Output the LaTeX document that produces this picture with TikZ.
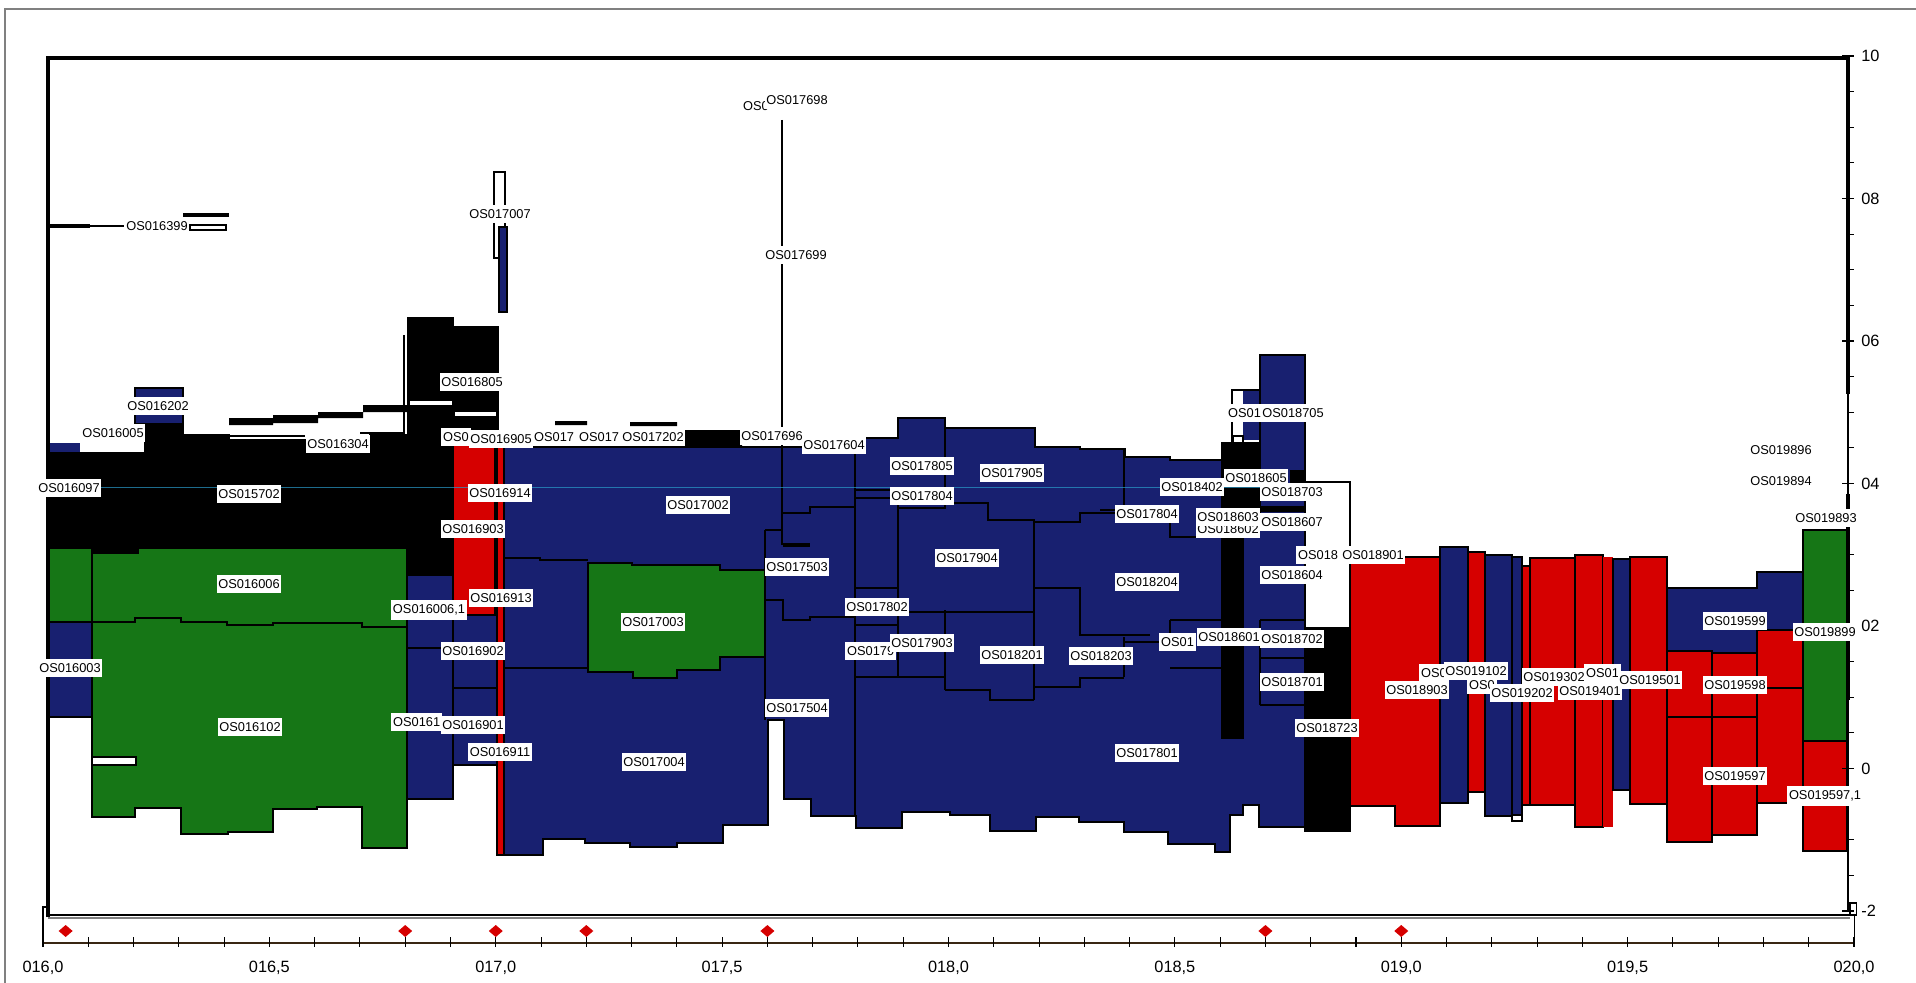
\documentclass[tikz,border=0pt]{standalone}
\usepackage{fontspec}
\setmainfont{Liberation Sans}
\usetikzlibrary{positioning}
\definecolor{navyblue}{RGB}{24,32,112}
\definecolor{oxred}{RGB}{214,0,0}
\definecolor{moss}{RGB}{22,118,22}

\begin{document}
\begin{tikzpicture}[x=0.02cm, y=-0.02cm,
    lbl/.style={fill=white, inner xsep=1pt, inner ysep=2.4pt,
                font=\fontsize{7.3}{8}\selectfont},
    cut/.style={lbl, anchor=west},
    bluebox/.style={fill=navyblue, draw=black, line width=1pt},
    redbox/.style={fill=oxred, draw=black, line width=1pt},
    greenbox/.style={fill=moss, draw=black, line width=1pt},
    blackbox/.style={fill=black, draw=black, line width=1pt},
    seam/.style={draw=black, line width=1pt},
    ticklbl/.style={font=\fontsize{9.3}{10}\selectfont, inner sep=0pt}
]
    \useasboundingbox (0,0) rectangle (1916,983);
    \draw[gray, line width=0.6pt] (5,983) -- (5,9) -- (1916,9);

    % left column
    \draw[line width=2.5pt] (48,226) -- (90,226);
    \node[lbl] (l016399) at (157,226) {OS016399};
    \draw[line width=0.8pt] (90,226) -- (l016399.west);
    \fill (183,213) rectangle (229,217);
    \draw[line width=0.8pt] (190,225) rectangle (226,230);
    \draw[bluebox] (135,388) rectangle (183,424);

    \draw[greenbox] (48,548) -- (92,548) -- (92,553) -- (138,553) -- (138,548) -- (407,548)
        -- (407,848) -- (362,848) -- (362,807) -- (317,807) -- (317,809) -- (273,809)
        -- (273,832) -- (228,832) -- (228,834) -- (181,834) -- (181,808) -- (135,808)
        -- (135,817) -- (92,817) -- (92,622) -- (48,622) -- cycle;
    \draw[seam] (92,548) -- (92,622)
        (92,622) -- (135,622) -- (135,618) -- (181,618) -- (181,622) -- (227,622) -- (227,625)
        -- (273,625) -- (273,623) -- (362,623) -- (362,627) -- (407,627);
    \draw[bluebox] (48,622) rectangle (92,717);
    \draw[line width=0.8pt, fill=white] (92,757) rectangle (136,765);

    \fill[navyblue] (48,443) rectangle (80,453);
    \draw[blackbox] (48,453) -- (145,453) -- (145,425) -- (183,425) -- (183,435) -- (229,435)
        -- (229,440) -- (370,440) -- (370,435) -- (408,435) -- (408,318) -- (453,318)
        -- (453,327) -- (498,327) -- (498,445) -- (453,445) -- (453,575) -- (407,575)
        -- (407,548) -- (138,548) -- (138,553) -- (92,553) -- (92,548) -- (48,548) -- cycle;
    \fill (229,418) rectangle (273,425) (273,415) rectangle (318,423)
          (318,412) rectangle (363,418) (363,405) rectangle (408,412);
    \draw[line width=0.6pt] (229,436) -- (305,436) (360,433) -- (405,433) (404,335) -- (404,440);
    \draw[white, line width=2pt] (410,403) -- (452,403) (455,414) -- (496,414);

    \draw[redbox] (453,445) rectangle (495,615);
    \draw[bluebox] (407,575) rectangle (453,799);
    \draw[bluebox] (453,615) rectangle (497,765);
    \draw[seam] (407,648) -- (453,648) (453,688) -- (497,688);

    % blue body
    \draw[bluebox] (504,447) -- (855,447) -- (855,438) -- (898,438) -- (898,418) -- (945,418)
        -- (945,428) -- (1035,428) -- (1035,447) -- (1080,447) -- (1080,449) -- (1125,449)
        -- (1125,457) -- (1170,457) -- (1170,460) -- (1222,460) -- (1222,443) -- (1260,443)
        -- (1260,355) -- (1305,355) -- (1305,827) -- (1259,827) -- (1259,805) -- (1243,805)
        -- (1243,815) -- (1230,815) -- (1230,852) -- (1215,852) -- (1215,844) -- (1168,844)
        -- (1168,832) -- (1124,832) -- (1124,822) -- (1079,822) -- (1079,817) -- (1036,817)
        -- (1036,831) -- (990,831) -- (990,815) -- (950,815) -- (950,812) -- (902,812)
        -- (902,828) -- (856,828) -- (856,816) -- (811,816) -- (811,799) -- (784,799)
        -- (784,720) -- (768,720) -- (768,825) -- (723,825) -- (723,843) -- (677,843)
        -- (677,847) -- (630,847) -- (630,843) -- (585,843) -- (585,839) -- (543,839)
        -- (543,855) -- (504,855) -- cycle;
    \draw[redbox, line width=0.8pt] (497,447) rectangle (504,855);
    \draw[greenbox] (588,563) -- (632,563) -- (632,565) -- (720,565) -- (720,570) -- (765,570)
        -- (765,657) -- (720,657) -- (720,670) -- (677,670) -- (677,678) -- (633,678)
        -- (633,672) -- (588,672) -- cycle;
    \draw[seam] (504,558) -- (540,558) -- (540,560) -- (588,560)
        (504,668) -- (588,668)
        (765,530) -- (765,720) (765,530) -- (783,530)
        (782,447) -- (782,545)
        (783,513) -- (810,513) -- (810,507) -- (855,507)
        (765,600) -- (783,600) -- (783,620) -- (810,620) -- (810,617) -- (855,617)
        (855,447) -- (855,816)
        (855,490) -- (898,490) (855,498) -- (890,498)
        (898,497) -- (898,677)
        (855,588) -- (898,588) (855,625) -- (898,625)
        (855,677) -- (945,677)
        (945,418) -- (945,507) (945,610) -- (945,690)
        (898,508) -- (945,508) -- (945,503) -- (988,503) -- (988,520) -- (1034,520)
            -- (1034,522) -- (1080,522) -- (1080,513) -- (1124,513)
        (1034,522) -- (1034,700)
        (898,612) -- (1034,612)
        (945,690) -- (990,690) -- (990,700) -- (1034,700)
        (1034,588) -- (1080,588) -- (1080,635) -- (1150,635)
        (1034,687) -- (1080,687) -- (1080,678) -- (1124,678)
        (1124,449) -- (1124,513) (1124,637) -- (1124,677)
        (1100,510) -- (1124,510) (1170,515) -- (1170,537) -- (1197,537)
        (1170,620) -- (1222,620) (1170,620) -- (1170,642) -- (1123,642)
        (1170,668) -- (1222,668)
        (1260,620) -- (1305,620) (1260,658) -- (1305,658) (1260,705) -- (1305,705)
        (1260,620) -- (1260,705);
    \draw[line width=2.2pt] (783,545) -- (810,545);
    \fill (685,430) rectangle (742,447) (555,421) rectangle (587,425) (630,422) rectangle (677,426);
    \draw[line width=1pt] (782,120) -- (782,447);
    \draw[line width=1pt] (494,258) -- (494,172) -- (505,172) -- (505,258) -- cycle;
    \draw[bluebox, line width=0.6pt] (499,227) rectangle (507,312);

    % columns near 018,7
    \draw[blackbox] (1222,443) -- (1260,443) -- (1260,520) -- (1243,520) -- (1243,738)
        -- (1222,738) -- cycle;
    \draw[line width=0.8pt] (1232,390) rectangle (1260,443);
    \fill[navyblue] (1243,391) rectangle (1259,440);
    \draw[line width=0.8pt, fill=white] (1233,436) rectangle (1243,443);
    \fill (1290,470) rectangle (1305,485) (1260,506) rectangle (1305,512);
    \draw[line width=1pt] (1305,482) -- (1350,482) -- (1350,628);
    \draw[blackbox] (1305,628) rectangle (1350,831);

    % red columns
    \draw[redbox] (1350,557) -- (1440,557) -- (1440,826) -- (1395,826) -- (1395,806)
        -- (1350,806) -- cycle;
    \draw[bluebox] (1440,547) rectangle (1468,803);
    \draw[redbox] (1468,552) rectangle (1485,792);
    \draw[bluebox] (1485,555) rectangle (1512,816);
    \draw[bluebox] (1512,557) rectangle (1522,815);
    \draw[line width=0.6pt, fill=white] (1512,815) rectangle (1522,821);
    \draw[redbox] (1522,566) rectangle (1530,805);
    \draw[redbox] (1530,558) rectangle (1575,805);
    \draw[redbox] (1575,555) rectangle (1603,827);
    \fill[oxred] (1603,557) rectangle (1613,827);
    \draw[bluebox] (1613,559) rectangle (1630,790);
    \draw[redbox] (1630,557) rectangle (1667,804);
    \draw[bluebox] (1667,588) -- (1757,588) -- (1757,572) -- (1803,572) -- (1803,630)
        -- (1757,630) -- (1757,653) -- (1712,653) -- (1712,651) -- (1667,651) -- cycle;
    \draw[redbox] (1667,651) rectangle (1712,842);
    \draw[redbox] (1712,653) rectangle (1757,835);
    \draw[redbox] (1757,630) rectangle (1803,803);
    \draw[seam] (1757,688) -- (1803,688) (1667,717) -- (1757,717);
    \draw[greenbox] (1803,530) rectangle (1847,741);
    \draw[redbox] (1803,741) rectangle (1847,851);

    \draw[cyan!60!teal, line width=0.4pt, opacity=0.7] (48,487) -- (1305,487);

    % axes
    \draw[line width=1.8pt] (48,917) -- (48,58) -- (1848,58);
    \draw[line width=1.8pt] (1848,56) -- (1848,394) (1848,494) -- (1848,700);
    \draw[line width=0.8pt] (1848,394) -- (1848,494) (1848,700) -- (1848,911);
    \foreach \k in {0,...,24}
        \draw[line width=0.6pt] (1848,56+35.625*\k) -- ++(6,0);
    \foreach \v/\t [count=\i] in {0/10,4/08,8/06,12/04,16/02,20/0,24/-2} {
        \draw[line width=0.6pt] (1842,56+35.625*\v) -- ++(12,0);
        \node[ticklbl, anchor=west] (ya\i) at (1861,56+35.625*\v) {\t};
    }
    \draw[line width=1pt] (48,915) -- (1850,915);
    \draw[gray, line width=1pt] (48,918) -- (1850,918);
    \draw[line width=0.6pt] (48,907) -- (43,907) -- (43,943);
    \draw[line width=0.6pt] (1850,903) rectangle (1856,915) (1854,915) -- (1854,943);
    \draw[black!70!brown, line width=1.4pt] (43,943) -- (1854,943);
    \foreach \k in {0,...,40}
        \draw[line width=0.6pt] (43+45.275*\k,937) -- ++(0,10);
    \foreach \t [count=\i from 0] in {{016,0},{016,5},{017,0},{017,5},{018,0},{018,5},{019,0},{019,5},{020,0}}
        \node[ticklbl] (xa\i) at (43+226.375*\i,968) {\t};
    \foreach \p in {16.05,16.8,17.0,17.2,17.6,18.7,19.0}
        \fill[oxred] ({43+452.75*(\p-16)},925) -- ++(7,6) -- ++(-7,6) -- ++(-7,-6) -- cycle;

    % labels
    \node[lbl] (l016202) at (158,406) {OS016202};
    \node[lbl] (l016005) at (113,433) {OS016005};
    \node[lbl] (l016304) at (338,444) {OS016304};
    \node[lbl] (l016097) at (69,488) {OS016097};
    \node[lbl] (l015702) at (249,494) {OS015702};
    \node[lbl] (l016006) at (249,584) {OS016006};
    \node[lbl] (l016006b) at (429,610) {OS016006,1};
    \node[lbl] (l016003) at (70,668) {OS016003};
    \node[lbl] (l016102) at (250,727) {OS016102};
    \node[cut] (l0161) at (391,722) {OS0161};
    \node[lbl] (l016901) at (473,725) {OS016901};
    \node[lbl] (l016911) at (500,752) {OS016911};
    \node[lbl] (l016805) at (472,382) {OS016805};
    \node[cut] (l0168) at (441,437) {OS0};
    \node[lbl] (l016905) at (501,439) {OS016905};
    \node[cut] (l0170) at (532,437) {OS017};
    \node[cut] (l0172) at (577,437) {OS017};
    \node[lbl] (l017202) at (653,437) {OS017202};
    \node[lbl] (l016914) at (500,493) {OS016914};
    \node[lbl] (l016903) at (473,529) {OS016903};
    \node[lbl] (l016913) at (501,598) {OS016913};
    \node[lbl] (l016902) at (473,651) {OS016902};
    \node[lbl] (l017002) at (698,505) {OS017002};
    \node[lbl] (l017003) at (653,622) {OS017003};
    \node[lbl] (l017004) at (654,762) {OS017004};
    \node[lbl] (l017007) at (500,214) {OS017007};
    \node[cut] (l0176) at (741,106) {OS0};
    \node[lbl] (l017698) at (797,100) {OS017698};
    \node[lbl] (l017699) at (796,255) {OS017699};
    \node[lbl] (l017604) at (834,445) {OS017604};
    \node[lbl] (l017696) at (772,436) {OS017696};
    \node[lbl] (l017503) at (797,567) {OS017503};
    \node[lbl] (l017504) at (797,708) {OS017504};
    \node[lbl] (l017805) at (922,466) {OS017805};
    \node[lbl] (l017905) at (1012,473) {OS017905};
    \node[lbl] (l017804) at (922,496) {OS017804};
    \node[lbl] (l017904) at (967,558) {OS017904};
    \node[lbl] (l017802) at (877,607) {OS017802};
    \node[cut] (l0179) at (845,651) {OS0179};
    \node[lbl] (l017903) at (922,643) {OS017903};
    \node[lbl] (l018201) at (1012,655) {OS018201};
    \node[lbl] (l018203) at (1101,656) {OS018203};
    \node[lbl] (l017804b) at (1147,514) {OS017804};
    \node[lbl] (l018402) at (1192,487) {OS018402};
    \node[lbl] (l018204) at (1147,582) {OS018204};
    \node[cut] (l0182) at (1159,642) {OS01};
    \node[lbl] (l018601) at (1229,637) {OS018601};
    \node[lbl] (l017801) at (1147,753) {OS017801};
    \node[cut] (l0186) at (1226,413) {OS01};
    \node[lbl] (l018705) at (1293,413) {OS018705};
    \node[lbl] (l018605) at (1256,478) {OS018605};
    \node[lbl] (l018703) at (1292,492) {OS018703};
    \node[lbl] (l018602) at (1228,529) {OS018602};
    \node[lbl] (l018603) at (1228,517) {OS018603};
    \node[lbl] (l018607) at (1292,522) {OS018607};
    \node[cut] (l0187) at (1296,555) {OS018};
    \node[lbl] (l018901) at (1373,555) {OS018901};
    \node[lbl] (l018604) at (1292,575) {OS018604};
    \node[lbl] (l018702) at (1292,639) {OS018702};
    \node[lbl] (l018701) at (1292,682) {OS018701};
    \node[lbl] (l018723) at (1327,728) {OS018723};
    \node[lbl] (l018903) at (1417,690) {OS018903};
    \node[cut] (l0190) at (1419,673) {OS0};
    \node[lbl] (l019102) at (1476,671) {OS019102};
    \node[cut] (l0191) at (1467,685) {OS0};
    \node[lbl] (l019202) at (1522,693) {OS019202};
    \node[lbl] (l019302) at (1554,677) {OS019302};
    \node[lbl] (l019401) at (1590,691) {OS019401};
    \node[cut] (l0194) at (1584,673) {OS01};
    \node[lbl] (l019501) at (1650,680) {OS019501};
    \node[lbl] (l019599) at (1735,621) {OS019599};
    \node[lbl] (l019598) at (1735,685) {OS019598};
    \node[lbl] (l019597) at (1735,776) {OS019597};
    \node[lbl] (l019896) at (1781,450) {OS019896};
    \node[lbl] (l019894) at (1781,481) {OS019894};
    \node[lbl] (l019893) at (1826,518) {OS019893};
    \node[lbl] (l019899) at (1825,632) {OS019899};
    \node[lbl] (l019597b) at (1825,796) {OS019597,1};
\end{tikzpicture}
\end{document}
